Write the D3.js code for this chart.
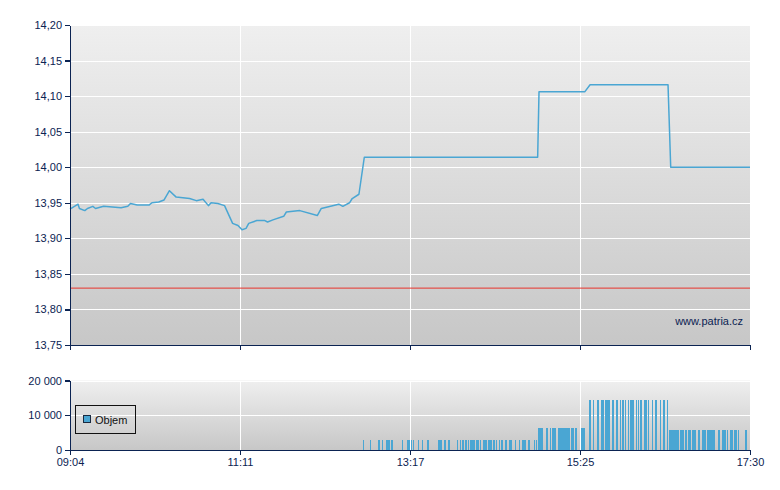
<!DOCTYPE html>
<html><head><meta charset="utf-8">
<script src="https://cdn.jsdelivr.net/npm/d3@7"></script>
<style>
body{margin:0;background:#fff}
svg{display:block}
text{font-family:"Liberation Sans",Arial,sans-serif}
</style>
</head><body>
<svg id="chart" width="780" height="490"></svg>
<script>
// ---------- data ----------
const sessionStart = "09:04";
const sessionEnd = "17:30";
const xTickLabels = ["09:04", "11:11", "13:17", "15:25", "17:30"];
const priceTicks = [13.75, 13.80, 13.85, 13.90, 13.95, 14.00, 14.05, 14.10, 14.15, 14.20];
const volumeTicks = [0, 10000, 20000];
const referencePrice = 13.83;
const watermark = "www.patria.cz";
const legendLabel = "Objem";

const priceTimes = ["09:04","09:10","09:11","09:15","09:17","09:21","09:23","09:29","09:42","09:47",
  "09:49","09:54","10:03","10:05","10:10","10:14","10:18","10:23","10:33","10:38",
  "10:43","10:47","10:49","10:54","10:59","11:05","11:09","11:12","11:15","11:17",
  "11:23","11:29","11:31","11:35","11:43","11:45","11:55","12:08","12:11","12:24",
  "12:27","12:32","12:34","12:39","12:43","14:52","14:53","15:27","15:31","16:29",
  "16:31","17:30"];
const priceValues = [13.941,13.948,13.942,13.939,13.942,13.945,13.942,13.945,13.943,13.945,
  13.949,13.947,13.947,13.950,13.951,13.954,13.967,13.958,13.956,13.953,
  13.955,13.946,13.950,13.949,13.946,13.921,13.918,13.912,13.914,13.921,
  13.925,13.925,13.923,13.926,13.931,13.937,13.939,13.932,13.942,13.948,
  13.945,13.950,13.956,13.962,14.014,14.014,14.106,14.106,14.116,14.116,
  14.000,14.000];

// volume bars: runs of trading minutes (from..to inclusive) and their volume
const volumeFrom = [
  "12:42","12:47","12:53","12:56","12:59","13:00","13:03","13:11","13:15","13:18",
  "13:19","13:23","13:26","13:30","13:38","13:42","13:45","13:52","13:54","13:56",
  "13:58","14:00","14:02","14:06","14:09","14:11","14:15","14:19","14:21","14:23",
  "14:25","14:28","14:31","14:35","14:38","14:40","14:45","14:49","14:51",
  "14:52","14:58","15:01","15:03","15:07","15:08","15:17","15:20","15:24","15:25",
  "15:30","15:33","15:36","15:39","15:40","15:42","15:47","15:50","15:53","15:55",
  "15:57","15:59","16:01","16:05","16:07","16:08","16:11","16:14","16:17","16:19",
  "16:23","16:25","16:28",
  "16:30","16:38","16:42","16:44","16:47","16:51","16:54","16:55","16:58","16:59",
  "17:06","17:09","17:13","17:15","17:16","17:18","17:21","17:26"];
const volumeTo = [
  "12:42","12:47","12:54","12:56","12:59","13:02","13:03","13:11","13:16","13:18",
  "13:19","13:23","13:26","13:30","13:40","13:43","13:46","13:52","13:54","13:56",
  "13:59","14:00","14:05","14:07","14:09","14:13","14:18","14:20","14:21","14:23",
  "14:25","14:28","14:32","14:35","14:38","14:42","14:45","14:49","14:51",
  "14:55","14:59","15:01","15:05","15:07","15:16","15:18","15:20","15:24","15:26",
  "15:31","15:33","15:37","15:39","15:40","15:45","15:48","15:51","15:53","15:56",
  "15:57","15:59","16:03","16:05","16:07","16:09","16:13","16:14","16:17","16:20",
  "16:23","16:26","16:28",
  "16:36","16:40","16:43","16:45","16:49","16:52","16:54","16:56","16:58","17:03",
  "17:07","17:11","17:13","17:15","17:17","17:19","17:21","17:27"];
const volumeValue = [
  2900,2900,2900,2900,2900,2900,2900,2900,2900,2900,
  2900,2900,2900,2900,2900,2900,2900,2900,2900,2900,
  2900,2900,2900,2900,2900,2900,2900,2900,2900,2900,
  2900,2900,2900,2900,2900,2900,2900,2900,2900,
  6300,6300,6300,6300,6300,6300,6300,6300,6300,6300,
  14500,14500,14500,14500,14500,14500,14500,14500,14500,14500,
  14500,14500,14500,14500,14500,14500,14500,14500,14500,14500,
  14500,14500,14500,
  5800,5800,5800,5800,5800,5800,5800,5800,5800,5800,
  5800,5800,5800,5800,5800,5800,5800,5800];

// ---------- helpers ----------
const toMin = s => { const [h, m] = s.split(":").map(Number); return h * 60 + m; };
const navy = "#0b2352";
const blue = "#4aa6d3";
const cz = d3.formatLocale({decimal: ",", thousands: "\u00a0", grouping: [3], currency: ["", ""]});
const fmtPrice = cz.format(".2f");
const fmtVol = cz.format(",d");

const svg = d3.select("#chart");
const L = 70, R = 750;
const mainTop = 25, mainBot = 345;
const volTop = 380.5, volBot = 450;

const t0 = toMin(sessionStart), t1 = toMin(sessionEnd);
const x = d3.scaleLinear().domain([t0, t1]).range([L, R]);
const y = d3.scaleLinear().domain([priceTicks[0], priceTicks[priceTicks.length - 1]]).range([mainBot, mainTop]);
const yv = d3.scaleLinear().domain([volumeTicks[0], volumeTicks[volumeTicks.length - 1]]).range([volBot, volTop]);
const xTickVals = xTickLabels.map((_, i) => t0 + i * (t1 - t0) / (xTickLabels.length - 1));

// gradient
const defs = svg.append("defs");
const grad = defs.append("linearGradient").attr("id", "bg").attr("x1", 0).attr("y1", 0).attr("x2", 0).attr("y2", 1);
grad.append("stop").attr("offset", "0%").attr("stop-color", "#efefef");
grad.append("stop").attr("offset", "100%").attr("stop-color", "#c7c7c7");

function panel(top, bot, yScale, ticks) {
  svg.append("rect").attr("x", L).attr("y", top).attr("width", R - L).attr("height", bot - top).attr("fill", "url(#bg)");
  const g = svg.append("g").attr("shape-rendering", "crispEdges");
  g.selectAll(".h").data(ticks.slice(1)).join("line")
    .attr("x1", L).attr("x2", R)
    .attr("y1", d => Math.round(yScale(d)) + 0.5).attr("y2", d => Math.round(yScale(d)) + 0.5)
    .attr("stroke", "#fff").attr("stroke-width", 1.4);
  g.selectAll(".v").data(xTickVals.slice(1, -1)).join("line")
    .attr("x1", d => Math.round(x(d)) + 0.5).attr("x2", d => Math.round(x(d)) + 0.5)
    .attr("y1", top).attr("y2", bot)
    .attr("stroke", "#fff").attr("stroke-width", 1.4);
}
panel(mainTop, mainBot, y, priceTicks);
panel(volTop, volBot, yv, volumeTicks);

// reference line
svg.append("line").attr("x1", L).attr("x2", R)
  .attr("y1", y(referencePrice)).attr("y2", y(referencePrice))
  .attr("stroke", "#e8342c").attr("stroke-width", 1);

// price line
const pts = priceTimes.map((t, i) => [toMin(t), priceValues[i]]);
svg.append("path").datum(pts)
  .attr("d", d3.line().x(d => x(d[0])).y(d => y(d[1])))
  .attr("fill", "none").attr("stroke", blue).attr("stroke-width", 1.5).attr("stroke-linejoin", "round");

// volume bars
const bars = volumeFrom.map((f, i) => ({from: toMin(f), to: toMin(volumeTo[i]), v: volumeValue[i]}));
bars.forEach((b, i) => { b.adj = i + 1 < bars.length && bars[i + 1].from === b.to + 1; });
svg.append("g").attr("shape-rendering", "crispEdges")
  .selectAll("rect").data(bars).join("rect")
  .attr("x", d => Math.round(x(d.from)))
  .attr("width", d => Math.max(1, Math.round(x(d.to + 1)) - Math.round(x(d.from)) - (d.adj ? 1 : 0)))
  .attr("y", d => yv(d.v)).attr("height", d => volBot - yv(d.v))
  .attr("fill", blue);

// axes
function styleAxis(g) {
  g.selectAll("path,line").attr("stroke", navy).attr("stroke-width", 1.3);
  g.selectAll("text").attr("fill", navy).style("font-size", "11px").style("font-family", '"Liberation Sans",Arial,sans-serif');
}
svg.append("g").attr("transform", `translate(${L},0)`)
  .call(d3.axisLeft(y).tickValues(priceTicks).tickFormat(fmtPrice).tickSize(5).tickSizeOuter(0).tickPadding(3))
  .call(styleAxis).attr("shape-rendering", "crispEdges");
svg.append("g").attr("transform", `translate(0,${mainBot})`)
  .call(d3.axisBottom(x).tickValues(xTickVals).tickFormat("").tickSize(5).tickSizeOuter(0))
  .call(styleAxis).attr("shape-rendering", "crispEdges");
svg.append("g").attr("transform", `translate(${L},0)`)
  .call(d3.axisLeft(yv).tickValues(volumeTicks).tickFormat(fmtVol).tickSize(5).tickSizeOuter(0).tickPadding(3))
  .call(styleAxis).attr("shape-rendering", "crispEdges");
svg.append("g").attr("transform", `translate(0,${volBot})`)
  .call(d3.axisBottom(x).tickValues(xTickVals).tickFormat((d, i) => xTickLabels[i]).tickSize(5).tickSizeOuter(0).tickPadding(3))
  .call(styleAxis).attr("shape-rendering", "crispEdges");

// watermark
svg.append("text").attr("x", 743).attr("y", 325).attr("text-anchor", "end")
  .attr("fill", navy).style("font-size", "11px").text(watermark);

// legend
const lg = svg.append("g").attr("shape-rendering", "crispEdges");
lg.append("rect").attr("x", 75.5).attr("y", 405.5).attr("width", 60).attr("height", 28)
  .attr("fill", "none").attr("stroke", "#111").attr("stroke-width", 1);
lg.append("rect").attr("x", 83.5).attr("y", 415.5).attr("width", 7).attr("height", 7)
  .attr("fill", blue).attr("stroke", "#1a2a40").attr("stroke-width", 1);
svg.append("text").attr("x", 95).attr("y", 424).attr("fill", "#111")
  .style("font-size", "11px").text(legendLabel);
</script>
</body></html>
